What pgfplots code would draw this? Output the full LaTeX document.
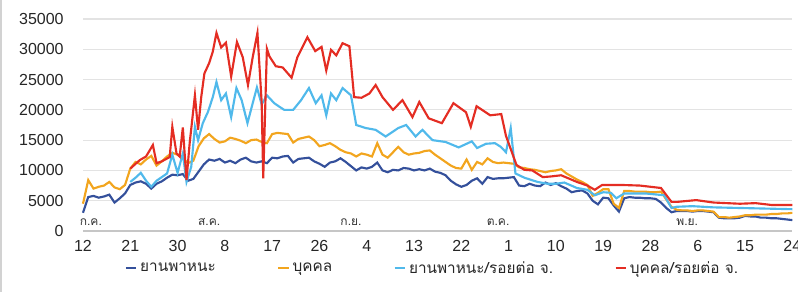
\documentclass[border=0pt]{standalone}
\usepackage{fontspec}
\setmainfont{Liberation Sans}
\newfontfamily\thaifont[Script=Thai]{Loma}
\usepackage{pgfplots}
\pgfplotsset{compat=1.18}
\definecolor{cdb}{RGB}{52,80,155}
\definecolor{cor}{RGB}{242,165,30}
\definecolor{clb}{RGB}{80,185,235}
\definecolor{crd}{RGB}{228,45,35}
\begin{document}
\begin{tikzpicture}
\path[use as bounding box] (-62.25pt,-45.75pt) rectangle (536.25pt,173.25pt);
\draw[gray!35, line width=1.5pt] (-61.2pt,-45.75pt) -- (-61.2pt,173.25pt);
\begin{axis}[
  at={(0,0)}, anchor=south west,
  scale only axis, width=532pt, height=159pt,
  xmin=0, xmax=135, ymin=0, ymax=35000,
  xtick={0,9,...,135},
  xticklabels={12,21,30,8,17,26,4,13,22,1,10,19,28,6,15,24},
  ytick={0,5000,...,35000},
  scaled y ticks=false,
  /pgf/number format/assume math mode=true,
  yticklabel style={/pgf/number format/1000 sep={}, xshift=-11pt},
  xticklabel style={yshift=-3.5pt},
  ymajorgrids, grid style={gray!22, line width=0.9pt},
  axis line style={draw=none},
  tick style={draw=none},
  tick label style={font=\fontsize{12}{14}\selectfont, text=black!85},
  legend columns=4,
  legend cell align=left,
  legend style={at={(0.493,-0.175)}, anchor=center, draw=none, fill=none,
    font=\thaifont\fontsize{11.5}{13}\selectfont, text=black!85,
    /tikz/every even column/.append style={column sep=44pt}},
  legend image code/.code={\draw[#1] (0pt,0pt) -- (8pt,0pt);},
  clip=false,
]
\draw[gray!45, line width=0.9pt] (axis cs:0,0) -- (axis cs:135,0);
\addplot[cdb, line width=1.6pt] coordinates {
(0,3000)(1,5600)(2,5800)(3,5500)(4,5700)(5,6000)(6,4700)(7,5400)(8,6200)(9,7600)(10,8000)(11,8200)(12,7800)(13,7000)(14,7800)(15,8200)(16,8800)(17,9300)(18,9200)(19,9400)(20,8300)(21,8600)(22,9800)(23,11000)(24,11800)(25,11600)(26,11900)(27,11300)(28,11600)(29,11200)(30,11800)(31,12100)(32,11500)(33,11300)(34,11500)(35,11200)(36,12100)(37,12000)(38,12300)(39,12400)(40,11300)(41,11900)(42,12000)(43,12100)(44,11500)(45,11100)(46,10600)(47,11300)(48,11500)(49,12000)(50,11400)(51,10700)(52,10000)(53,10500)(54,10300)(55,10600)(56,11300)(57,10000)(58,9700)(59,10100)(60,10000)(61,10400)(62,10300)(63,10000)(64,10200)(65,10000)(66,10300)(67,9800)(68,9600)(69,9200)(70,8300)(71,7700)(72,7300)(73,7600)(74,8300)(75,8700)(76,7800)(77,8900)(78,8600)(79,8700)(80,8700)(81,8800)(82,8900)(83,7500)(84,7400)(85,7800)(86,7500)(87,7400)(88,8000)(89,7600)(90,7900)(91,7400)(92,7000)(93,6400)(94,6600)(95,6700)(96,6200)(97,5000)(98,4400)(99,5500)(100,5400)(101,4200)(102,3200)(103,5400)(104,5600)(105,5500)(106,5500)(107,5400)(108,5400)(109,5300)(110,4700)(111,3800)(112,3100)(113,3300)(114,3300)(115,3300)(116,3200)(117,3300)(118,3300)(119,3200)(120,3100)(121,2200)(122,2100)(123,2100)(124,2100)(125,2200)(126,2500)(127,2400)(128,2400)(129,2200)(130,2200)(131,2100)(132,2100)(133,2000)(134,1900)(135,1800)
};
\addlegendentry{ยานพาหนะ}
\addplot[cor, line width=1.6pt] coordinates {
(0,4500)(1,8400)(2,7000)(3,7300)(4,7500)(5,8100)(6,7200)(7,6900)(8,7600)(9,10300)(10,11400)(11,11000)(12,11800)(13,12400)(14,10800)(15,11500)(16,12300)(17,12900)(18,12600)(19,12000)(20,11200)(21,11600)(22,14000)(23,15300)(24,16000)(25,15200)(26,14600)(27,14800)(28,15400)(29,15200)(30,14900)(31,14500)(32,15000)(33,15100)(34,14700)(35,14500)(36,16000)(37,16200)(38,16100)(39,16000)(40,14600)(41,15200)(42,15400)(43,15600)(44,15000)(45,14000)(46,14200)(47,14500)(48,14000)(49,13400)(50,13000)(51,12800)(52,12300)(53,12800)(54,12600)(55,12300)(56,14500)(57,12600)(58,12100)(59,13000)(60,13900)(61,13000)(62,12600)(63,12800)(64,12900)(65,13200)(66,13300)(67,12600)(68,12000)(69,11400)(70,10800)(71,10400)(72,10300)(73,11800)(74,10100)(75,11400)(76,11000)(77,12000)(78,11400)(79,11200)(80,11300)(81,11200)(82,11100)(83,10500)(84,10400)(85,10200)(86,10100)(87,9900)(88,9700)(89,9900)(90,10000)(91,10200)(92,9500)(93,9000)(94,8500)(95,8100)(96,7600)(97,5800)(98,6300)(99,6900)(100,6900)(101,4500)(102,3800)(103,6600)(104,6600)(105,6500)(106,6500)(107,6500)(108,6400)(109,6400)(110,6500)(111,5200)(112,4000)(113,3500)(114,3400)(115,3400)(116,3300)(117,3400)(118,3400)(119,3300)(120,3200)(121,2300)(122,2300)(123,2200)(124,2300)(125,2400)(126,2600)(127,2600)(128,2700)(129,2700)(130,2700)(131,2800)(132,2800)(133,2900)(134,2900)(135,3000)
};
\addlegendentry{บุคคล}
\addplot[clb, line width=1.6pt] coordinates {
(9,8100)(10,8800)(11,9600)(12,8300)(13,7300)(14,8300)(15,8900)(16,9500)(17,12600)(18,9600)(19,12800)(19.7,8100)(20.6,10600)(21.3,17200)(21.9,15000)(22.8,17800)(23.8,19700)(24.7,22100)(25.4,24600)(26.3,21600)(27.2,22700)(28.2,18800)(29.2,23600)(30.2,21600)(31.3,17800)(32.3,21100)(33.1,23700)(34,20900)(35,22400)(36.4,21100)(37.4,20500)(38.3,20000)(40,20000)(41.5,21600)(43,23600)(44.3,21100)(45.4,22400)(46.3,19100)(47.2,22700)(48.2,21600)(49.4,23600)(51,22400)(52,17500)(53.8,17000)(55.7,16700)(57.6,15600)(60,17000)(61.5,17500)(63.3,15600)(64.6,16700)(66.5,15000)(69,14700)(71.5,13800)(74,14800)(75,13700)(76.7,14400)(78.4,14500)(79.5,13900)(80.5,13000)(81.4,17000)(82.3,9500)(84,8800)(86.5,8100)(88.4,7800)(90,7800)(91.6,8000)(94,7100)(96,6800)(97.4,5900)(99,6400)(100.5,6300)(101.5,5400)(103,6200)(107,6200)(110.6,5900)(112,3800)(113,4000)(116,4100)(120,3900)(125,3800)(130,3700)(135,3600)
};
\addlegendentry{ยานพาหนะ/รอยต่อ จ.}
\addplot[crd, line width=1.6pt] coordinates {
(9,10300)(10.8,11700)(12,12300)(13.3,14200)(14,11200)(15,11500)(16.5,12200)(17,17200)(17.8,12800)(18.4,12300)(19,17100)(19.7,8400)(20.3,14500)(21.3,22400)(21.9,16700)(22.5,22100)(23.1,26000)(24,27700)(24.7,29600)(25.4,32700)(26.3,30300)(27.2,31100)(28.2,25500)(29.3,31200)(30.4,28700)(31.4,24100)(32.3,28700)(33.2,32700)(34,21300)(34.3,8700)(35,30100)(35.5,28800)(36.7,27200)(38,27000)(39.7,25300)(40.8,28700)(42.7,32000)(44.2,29700)(45.4,30400)(46.3,26500)(47.2,29900)(48.2,29000)(49.4,31000)(50.7,30500)(51.6,22100)(53,22000)(54.5,22700)(55.7,24100)(57,22100)(59,20000)(60.8,21600)(62.7,18800)(64,21300)(65.8,18600)(68.3,17800)(70.5,21100)(72.9,19600)(73.8,17200)(74.9,20600)(77.5,19100)(79.6,19300)(80.5,15700)(82.5,10900)(84,10100)(85.5,10000)(87.5,8900)(89,9000)(91,9200)(94,8100)(96,7500)(97.4,6800)(98.8,7600)(102.5,7600)(106,7500)(110,7100)(112,4800)(113,4800)(116.7,5100)(120,4700)(125,4500)(128,4600)(131,4300)(135,4300)
};
\addlegendentry{บุคคล/รอยต่อ จ.}
\node[font=\thaifont\fontsize{9}{10}\selectfont, text=black!80] at (axis cs:1.5,1500) {ก.ค.};
\node[font=\thaifont\fontsize{9}{10}\selectfont, text=black!80] at (axis cs:24,1500) {ส.ค.};
\node[font=\thaifont\fontsize{9}{10}\selectfont, text=black!80] at (axis cs:51,1500) {ก.ย.};
\node[font=\thaifont\fontsize{9}{10}\selectfont, text=black!80] at (axis cs:79,1500) {ต.ค.};
\node[font=\thaifont\fontsize{9}{10}\selectfont, text=black!80] at (axis cs:115,1500) {พ.ย.};
\end{axis}
\end{tikzpicture}
\end{document}
